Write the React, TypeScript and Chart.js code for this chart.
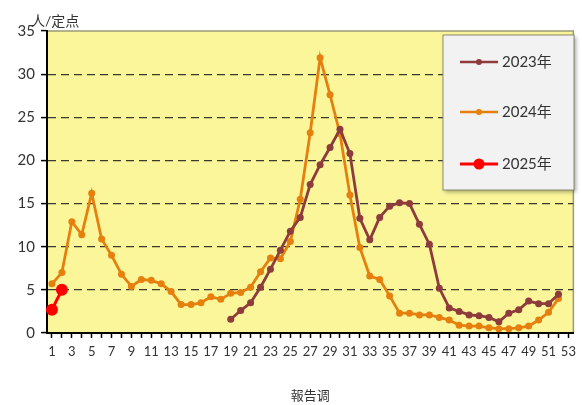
import React, { useEffect, useRef } from "react";
import { Chart, registerables } from "chart.js";

Chart.register(...registerables);

const weeks: string[] = Array.from({ length: 53 }, (_, i) => String(i + 1));

const series2023: (number | null)[] = [
  null, null, null, null, null, null, null, null, null, null,
  null, null, null, null, null, null, null, null,
  1.6, 2.6, 3.5, 5.3, 7.4, 9.6, 11.8, 13.4, 17.2, 19.5, 21.5, 23.6,
  20.8, 13.3, 10.8, 13.4, 14.7, 15.1, 15.0, 12.6, 10.3, 5.2,
  2.9, 2.5, 2.1, 2.0, 1.8, 1.3, 2.3, 2.7, 3.7, 3.4, 3.4, 4.5,
];

const series2024: (number | null)[] = [
  5.7, 7.0, 12.9, 11.4, 16.2, 10.9, 9.0, 6.8, 5.4, 6.2,
  6.1, 5.7, 4.8, 3.3, 3.3, 3.5, 4.2, 3.9, 4.6, 4.7,
  5.3, 7.1, 8.7, 8.6, 10.6, 15.5, 23.2, 31.9, 27.6, 23.1,
  16.0, 9.9, 6.6, 6.2, 4.3, 2.3, 2.3, 2.1, 2.1, 1.8,
  1.5, 0.9, 0.8, 0.8, 0.6, 0.5, 0.5, 0.6, 0.8, 1.5,
  2.4, 4.0,
];

const series2025: (number | null)[] = [2.7, 5.0];

const seriesNames: string[] = ["2023年", "2024年", "2025年"];
const seriesColors: string[] = ["#8E3B3B", "#E5800E", "#FF0000"];
const yTicks: number[] = [0, 5, 10, 15, 20, 25, 30, 35];

const FONT = "Lato, 'Noto Sans CJK SC', sans-serif";

export default function App() {
  const ref = useRef<HTMLCanvasElement | null>(null);

  useEffect(() => {
    document.body.style.margin = "0";
    const canvas = ref.current;
    if (!canvas) return;

    const bgPlugin = {
      id: "bgPlugin",
      beforeDraw(chart: any) {
        const { ctx, chartArea } = chart;
        ctx.save();
        ctx.fillStyle = "#FFFFFF";
        ctx.fillRect(0, 0, chart.width, chart.height);
        ctx.fillStyle = "#FBF69A";
        ctx.fillRect(chartArea.left, chartArea.top, chartArea.right - chartArea.left, chartArea.bottom - chartArea.top);
        ctx.strokeStyle = "#9A9A78";
        ctx.lineWidth = 1.5;
        ctx.strokeRect(chartArea.left, chartArea.top, chartArea.right - chartArea.left, chartArea.bottom - chartArea.top);
        ctx.restore();
      },
      afterDraw(chart: any) {
        const { ctx } = chart;
        ctx.save();
        ctx.fillStyle = "#333333";
        ctx.font = `14px ${FONT}`;
        ctx.textAlign = "left";
        ctx.textBaseline = "middle";
        ctx.fillText("人/定点", 31, 21);

        const bx = 443, by = 35, bw = 131, bh = 155;
        ctx.shadowColor = "rgba(0,0,0,0.35)";
        ctx.shadowBlur = 4;
        ctx.shadowOffsetX = 2;
        ctx.shadowOffsetY = 2;
        ctx.fillStyle = "#F2F2F2";
        ctx.fillRect(bx, by, bw, bh);
        ctx.shadowColor = "transparent";
        ctx.strokeStyle = "#8A8A70";
        ctx.lineWidth = 1;
        ctx.strokeRect(bx, by, bw, bh);

        const ys = [62, 112, 164];
        chart.data.datasets.forEach((ds: any, i: number) => {
          const y = ys[i];
          ctx.strokeStyle = ds.borderColor;
          ctx.lineWidth = i === 2 ? 3 : 2.5;
          ctx.beginPath();
          ctx.moveTo(460, y);
          ctx.lineTo(498, y);
          ctx.stroke();
          ctx.fillStyle = ds.pointBackgroundColor;
          ctx.beginPath();
          ctx.arc(479, y, i === 2 ? 5.5 : 3, 0, Math.PI * 2);
          ctx.fill();
          ctx.fillStyle = "#333333";
          ctx.font = `15px ${FONT}`;
          ctx.textAlign = "left";
          ctx.textBaseline = "middle";
          ctx.fillText(ds.label, 502, y);
        });
        ctx.restore();
      },
    };

    const chart = new Chart(canvas, {
      type: "line",
      data: {
        labels: weeks,
        datasets: [
          {
            label: seriesNames[0],
            data: series2023,
            borderColor: seriesColors[0],
            backgroundColor: seriesColors[0],
            pointBackgroundColor: seriesColors[0],
            pointBorderColor: seriesColors[0],
            borderWidth: 2.8,
            pointRadius: 3.5,
            pointBorderWidth: 0,
            spanGaps: false,
          },
          {
            label: seriesNames[1],
            data: series2024,
            borderColor: seriesColors[1],
            backgroundColor: seriesColors[1],
            pointBackgroundColor: seriesColors[1],
            pointBorderColor: seriesColors[1],
            borderWidth: 2.8,
            pointRadius: 3.5,
            pointBorderWidth: 0,
          },
          {
            label: seriesNames[2],
            data: series2025,
            borderColor: seriesColors[2],
            backgroundColor: seriesColors[2],
            pointBackgroundColor: seriesColors[2],
            pointBorderColor: seriesColors[2],
            borderWidth: 3,
            pointRadius: 6,
            pointBorderWidth: 0,
          },
        ],
      },
      options: {
        animation: false,
        responsive: false,
        maintainAspectRatio: false,
        layout: { padding: { left: 0, right: 2, top: 31, bottom: 0 } },
        plugins: {
          legend: { display: false },
          tooltip: { enabled: false },
        },
        elements: { line: { tension: 0 } },
        scales: {
          x: {
            type: "category",
            offset: true,
            grid: {
              drawOnChartArea: false,
              drawTicks: true,
              tickLength: 5,
              tickColor: "#000000",
              tickWidth: 1.5,
              offset: false,
            },
            border: { display: true, color: "#000000", width: 2 },
            ticks: {
              autoSkip: false,
              maxRotation: 0,
              minRotation: 0,
              padding: 6,
              color: "#333333",
              font: { family: FONT, size: 13 },
              callback: (_v: any, i: number) => (i % 2 === 0 ? weeks[i] : ""),
            },
            title: {
              display: true,
              text: "報告调",
              color: "#333333",
              font: { family: FONT, size: 13 },
              padding: { top: 4, bottom: 1 },
            },
            afterFit: (scale: any) => {
              scale.height = 72;
            },
          },
          y: {
            min: 0,
            max: 35,
            afterBuildTicks: (scale: any) => {
              scale.ticks = yTicks.map((v) => ({ value: v }));
            },
            grid: {
              drawOnChartArea: true,
              drawTicks: true,
              tickLength: 6,
              tickColor: "#000000",
              tickWidth: 1.5,
              tickBorderDash: [],
              color: (ctx: any) =>
                ctx.tick && (ctx.tick.value === 0 || ctx.tick.value === 35)
                  ? "rgba(0,0,0,0)"
                  : "#3A3A2A",
              lineWidth: 1.2,
            },
            border: { display: true, color: "#000000", width: 2, dash: [8, 5] },
            ticks: {
              padding: 6,
              color: "#333333",
              font: { family: FONT, size: 15 },
            },
            afterFit: (scale: any) => {
              scale.width = 47;
            },
          },
        },
      },
      plugins: [bgPlugin],
    });

    return () => chart.destroy();
  }, []);

  return (
    <div style={{ width: 582, height: 405 }}>
      <canvas ref={ref} width={582} height={405} style={{ width: 582, height: 405, display: "block" }} />
    </div>
  );
}
